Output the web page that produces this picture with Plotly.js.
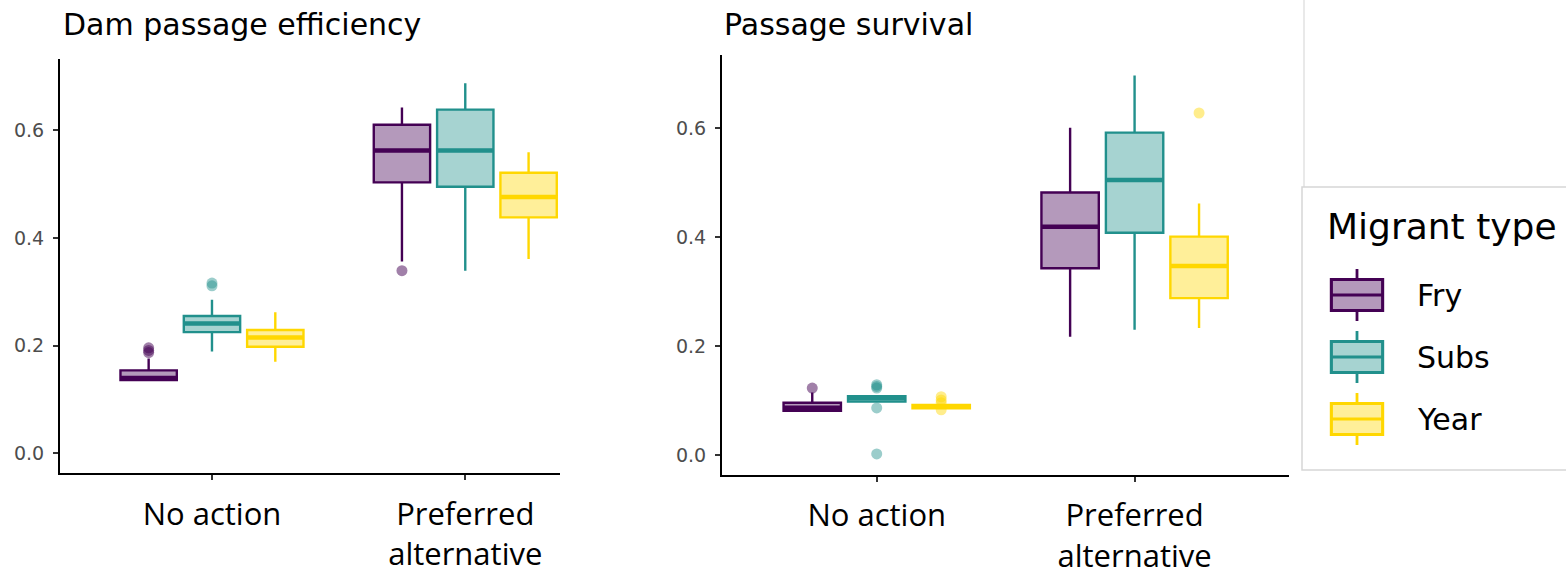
<!DOCTYPE html>
<html><head><meta charset="utf-8">
<script src="https://cdn.plot.ly/plotly-3.0.1.min.js"></script>
<style>html,body{margin:0;padding:0;background:#fff}#chart{width:1566px;height:574px}</style>
</head><body><div id="chart"></div>
<script>
// ---------- data ----------
const categories = ['No action', 'Preferred alternative'];
const tickLabels = ['No action', 'Preferred<br>alternative'];
const migrantTypes = ['Fry', 'Subs', 'Year'];
const panelTitles = ['Dam passage efficiency', 'Passage survival'];
const legendTitle = 'Migrant type';
const yTicks = [0, 0.2, 0.4, 0.6];

// Dam passage efficiency
const effFryLower  = [0.135, 0.356];
const effFryQ1     = [0.136, 0.503];
const effFryMedian = [0.140, 0.562];
const effFryQ3     = [0.154, 0.610];
const effFryUpper  = [0.176, 0.642];
const effFryOut    = [[0.196, 0.191, 0.187], [0.339]];

const effSubsLower  = [0.189, 0.339];
const effSubsQ1     = [0.225, 0.495];
const effSubsMedian = [0.241, 0.562];
const effSubsQ3     = [0.255, 0.638];
const effSubsUpper  = [0.285, 0.687];
const effSubsOut    = [[0.316, 0.311], []];

const effYearLower  = [0.170, 0.361];
const effYearQ1     = [0.198, 0.438];
const effYearMedian = [0.215, 0.476];
const effYearQ3     = [0.229, 0.521];
const effYearUpper  = [0.262, 0.559];
const effYearOut    = [[], []];

// Passage survival
const survFryLower  = [0.079, 0.217];
const survFryQ1     = [0.081, 0.343];
const survFryMedian = [0.087, 0.419];
const survFryQ3     = [0.096, 0.482];
const survFryUpper  = [0.115, 0.601];
const survFryOut    = [[0.123], []];

const survSubsLower  = [0.098, 0.230];
const survSubsQ1     = [0.098, 0.408];
const survSubsMedian = [0.104, 0.505];
const survSubsQ3     = [0.108, 0.592];
const survSubsUpper  = [0.108, 0.697];
const survSubsOut    = [[0.129, 0.126, 0.123, 0.0865, 0.002], []];

const survYearLower  = [0.086, 0.233];
const survYearQ1     = [0.086, 0.288];
const survYearMedian = [0.089, 0.347];
const survYearQ3     = [0.092, 0.401];
const survYearUpper  = [0.092, 0.462];
const survYearOut    = [[0.107, 0.101, 0.096, 0.083], [0.628]];

// ---------- styles ----------
const lineColors = ['#440154', '#21908C', '#FFD700'];
const fillColors = ['rgba(68,1,84,0.4)', 'rgba(33,144,140,0.4)', 'rgba(255,215,0,0.4)'];
const pointColors = ['rgba(68,1,84,0.5)', 'rgba(33,144,140,0.45)', 'rgba(255,215,0,0.45)'];

const W = 1566, H = 574;
const px = x => x / W;
const py = y => 1 - y / H;

const panels = [
  {xa: 'x', ya: 'y', stats: [
    [effFryLower, effFryQ1, effFryMedian, effFryQ3, effFryUpper, effFryOut],
    [effSubsLower, effSubsQ1, effSubsMedian, effSubsQ3, effSubsUpper, effSubsOut],
    [effYearLower, effYearQ1, effYearMedian, effYearQ3, effYearUpper, effYearOut]]},
  {xa: 'x2', ya: 'y2', stats: [
    [survFryLower, survFryQ1, survFryMedian, survFryQ3, survFryUpper, survFryOut],
    [survSubsLower, survSubsQ1, survSubsMedian, survSubsQ3, survSubsUpper, survSubsOut],
    [survYearLower, survYearQ1, survYearMedian, survYearQ3, survYearUpper, survYearOut]]}
];

const traces = [];
panels.forEach((p, pi) => {
  p.stats.forEach((s, i) => {
    const [lo, q1, med, q3, up, out] = s;
    const hasPts = out.some(a => a.length > 0);
    const tr = {
      type: 'box', name: migrantTypes[i], x: categories,
      lowerfence: lo, q1: q1, median: med, q3: q3, upperfence: up,
      boxpoints: hasPts ? 'all' : false, jitter: 0, pointpos: 0,
      marker: {color: pointColors[i], size: 11, line: {width: 0}},
      line: {color: lineColors[i], width: 2.4}, fillcolor: fillColors[i],
      whiskerwidth: 0, offsetgroup: migrantTypes[i], alignmentgroup: 'g' + pi,
      xaxis: p.xa, yaxis: p.ya, showlegend: false, hoverinfo: 'skip'
    };
    if (hasPts) tr.y = out;
    traces.push(tr);
  });
  p.stats.forEach((s, i) => {
    const med = s[2];
    traces.push({
      type: 'box', name: migrantTypes[i] + ' median', x: categories,
      lowerfence: med, q1: med, median: med, q3: med, upperfence: med,
      boxpoints: false,
      line: {color: lineColors[i], width: 4.5}, fillcolor: 'rgba(0,0,0,0)',
      whiskerwidth: 0, offsetgroup: migrantTypes[i], alignmentgroup: 'g' + pi,
      xaxis: p.xa, yaxis: p.ya, showlegend: false, hoverinfo: 'skip'
    });
  });
});

const xCommon = {
  type: 'category', tickvals: categories, ticktext: tickLabels,
  showline: true, linecolor: '#000', linewidth: 2,
  ticks: 'outside', ticklen: 5, tickwidth: 2, tickcolor: '#333',
  tickfont: {family: 'Open Sans', size: 31, color: '#000'},
  showgrid: false, zeroline: false, fixedrange: true, ticklabelstandoff: 7
};
const yCommon = {
  tickvals: yTicks, tickformat: '.1f',
  showline: true, linecolor: '#000', linewidth: 2,
  ticks: 'outside', ticklen: 5, tickwidth: 2, tickcolor: '#333',
  tickfont: {family: 'DejaVu Sans', size: 19, color: '#4d4d4d'},
  showgrid: false, zeroline: false, fixedrange: true, ticklabelstandoff: 5
};

const annotations = [
  {text: panelTitles[0], x: px(61), y: py(25), xanchor: 'left', yanchor: 'middle'},
  {text: panelTitles[1], x: px(722), y: py(25), xanchor: 'left', yanchor: 'middle'},
  {text: legendTitle, x: px(1325), y: py(226), xanchor: 'left', yanchor: 'middle', font: {family: 'DejaVu Sans', size: 36, color: '#000'}}
].map(a => Object.assign({xref: 'paper', yref: 'paper', showarrow: false, font: {family: 'DejaVu Sans', size: 30, color: '#000'}}, a));

const P = {xref: 'paper', yref: 'paper'};
const shapes = [
  Object.assign({type: 'line', x0: px(1304), x1: px(1304), y0: py(0), y1: py(187), line: {color: '#e2e2e2', width: 1.5}}, P),
  Object.assign({type: 'rect', x0: px(1302), x1: px(1600), y0: py(187), y1: py(470), line: {color: '#d6d6d6', width: 1.5}, fillcolor: 'rgba(0,0,0,0)'}, P)
];
const keyCx = 1357, keyHalfW = 25.7, keyHalfH = 15.5, keyWhisk = 26, keyY0 = 295, keyStep = 62;
migrantTypes.forEach((t, i) => {
  const cy = keyY0 + i * keyStep;
  shapes.push(Object.assign({type: 'line', x0: px(keyCx), x1: px(keyCx), y0: py(cy - keyWhisk), y1: py(cy + keyWhisk), line: {color: lineColors[i], width: 2.8}}, P));
  shapes.push(Object.assign({type: 'rect', x0: px(keyCx - keyHalfW), x1: px(keyCx + keyHalfW), y0: py(cy - keyHalfH), y1: py(cy + keyHalfH), line: {color: lineColors[i], width: 2.8}, fillcolor: '#fff'}, P));
  shapes.push(Object.assign({type: 'rect', x0: px(keyCx - keyHalfW), x1: px(keyCx + keyHalfW), y0: py(cy - keyHalfH), y1: py(cy + keyHalfH), line: {color: lineColors[i], width: 2.8}, fillcolor: fillColors[i]}, P));
  shapes.push(Object.assign({type: 'line', x0: px(keyCx - keyHalfW), x1: px(keyCx + keyHalfW), y0: py(cy), y1: py(cy), line: {color: lineColors[i], width: 2.8}}, P));
  annotations.push({text: t, xref: 'paper', yref: 'paper', x: px(1415), y: py(cy), xanchor: 'left', yanchor: 'middle', showarrow: false, font: {family: 'DejaVu Sans', size: 30, color: '#000'}});
});

const layout = {
  width: W, height: H,
  margin: {l: 0, r: 0, t: 0, b: 0, pad: 0},
  paper_bgcolor: '#fff', plot_bgcolor: '#fff',
  boxmode: 'group', boxgap: 0.25, boxgroupgap: 0.11,
  showlegend: false, hovermode: false,
  xaxis: Object.assign({}, xCommon, {domain: [px(60), px(560)], range: [-0.6, 1.374], anchor: 'y'}),
  yaxis: Object.assign({}, yCommon, {domain: [py(473.3), py(59)], range: [-0.037, 0.732], anchor: 'x'}),
  xaxis2: Object.assign({}, xCommon, {domain: [px(722), px(1289.3)], range: [-0.6, 1.6], anchor: 'y2'}),
  yaxis2: Object.assign({}, yCommon, {domain: [py(475), py(55)], range: [-0.0367, 0.7345], anchor: 'x2'}),
  annotations: annotations, shapes: shapes
};

Plotly.newPlot('chart', traces, layout, {staticPlot: true, displayModeBar: false});
</script></body></html>
